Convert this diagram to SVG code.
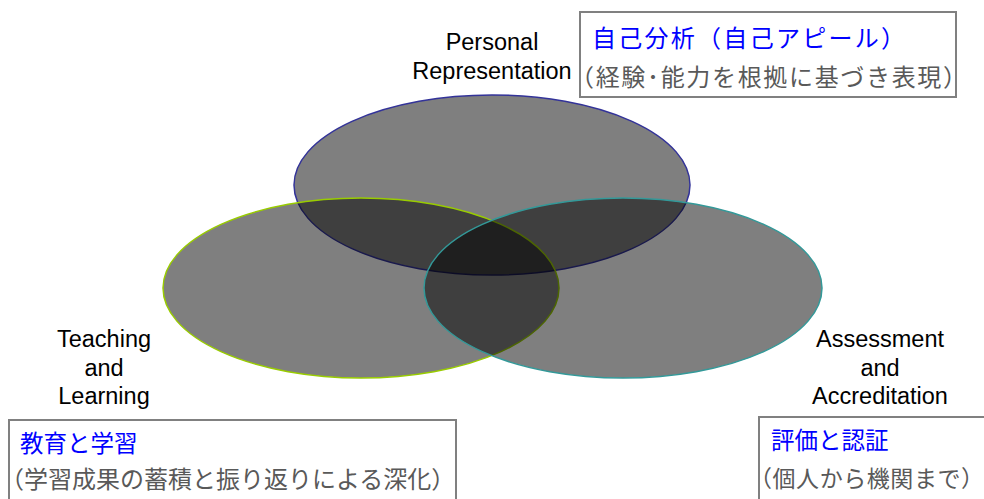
<svg xmlns="http://www.w3.org/2000/svg" width="984" height="499" viewBox="0 0 984 499">
<style>
.ell{fill:#000;fill-opacity:0.5;stroke-width:1.5}
.lbl{font-family:"Liberation Sans",Arial,sans-serif;font-size:23.5px;fill:#000;text-anchor:middle}
.box{fill:#fff;stroke:#808080;stroke-width:2}
.ttl{font-family:"Noto Sans CJK JP","Liberation Sans",sans-serif;font-size:23.5px;fill:#0000ff}
.sub{font-family:"Noto Sans CJK JP","Liberation Sans",sans-serif;font-size:23.5px;fill:#595959}
</style>
<rect width="984" height="499" fill="#fff"/>
<g id="personal">
<ellipse class="ell" cx="492" cy="185" rx="198" ry="90" stroke="#333399"/>
<text class="lbl" x="492" y="50">Personal</text>
<text class="lbl" x="492" y="79">Representation</text>
</g>
<g id="teaching">
<ellipse class="ell" cx="361" cy="288" rx="198" ry="90" stroke="#99cc00"/>
<text class="lbl" x="104" y="347">Teaching</text>
<text class="lbl" x="104" y="376">and</text>
<text class="lbl" x="104" y="404">Learning</text>
</g>
<g id="assessment">
<ellipse class="ell" cx="623" cy="288" rx="199" ry="90" stroke="#339999"/>
<text class="lbl" x="880" y="347">Assessment</text>
<text class="lbl" x="880" y="376">and</text>
<text class="lbl" x="880" y="404">Accreditation</text>
</g>
<g id="box-personal">
<rect class="box" x="580" y="12" width="376" height="85"/>
<text class="ttl" x="592" y="47" style="font-size:24px" textLength="313" lengthAdjust="spacing">自己分析（自己アピール）</text>
<text class="sub" x="570" y="86" style="font-size:24px" textLength="397" lengthAdjust="spacing">（経験･能力を根拠に基づき表現）</text>
</g>
<g id="box-teaching">
<rect class="box" x="9" y="420" width="447" height="90"/>
<text class="ttl" x="20" y="452">教育と学習</text>
<text class="sub" x="0" y="488" style="font-size:24px">（学習成果の蓄積と振り返りによる深化）</text>
</g>
<g id="box-assessment">
<rect class="box" x="759" y="417" width="240" height="95"/>
<text class="ttl" x="771" y="449">評価と認証</text>
<text class="sub" x="749" y="487" style="font-size:23px" textLength="235" lengthAdjust="spacing">（個人から機関まで）</text>
</g>
<g id="connectors"/>
</svg>
